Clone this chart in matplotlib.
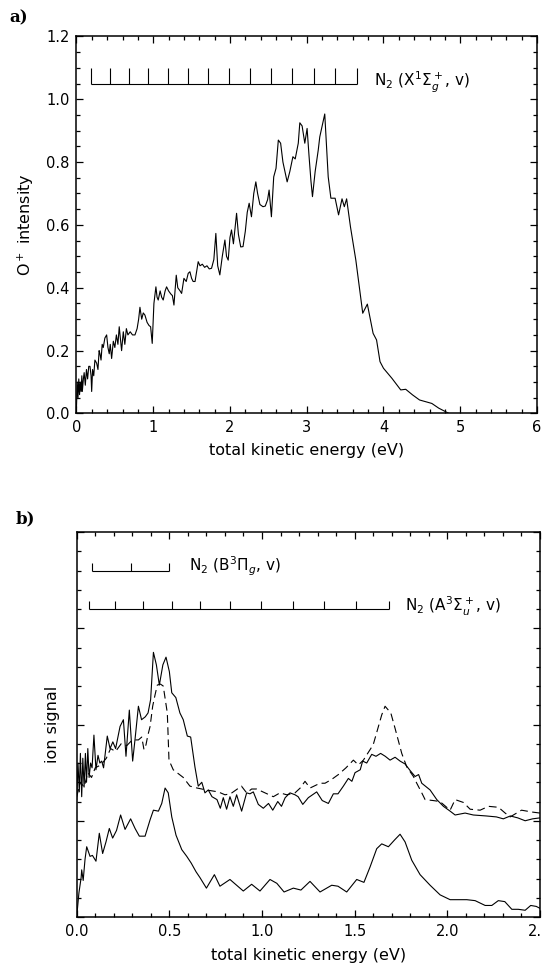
import matplotlib
matplotlib.use('Agg')
import matplotlib.pyplot as plt
from matplotlib.ticker import MultipleLocator, NullFormatter

plt.rcParams['font.family'] = 'DejaVu Sans'
plt.rcParams['mathtext.fontset'] = 'dejavusans'

# panel a: O+ kinetic energy distribution
a_energy = [0.00, 0.01, 0.02, 0.03, 0.04, 0.05, 0.06, 0.07, 0.076, 0.09, 0.10, 0.115, 0.13, 0.145,
            0.16, 0.176, 0.19, 0.198, 0.21, 0.225, 0.24, 0.263, 0.28, 0.295, 0.306, 0.32, 0.335,
            0.349, 0.37, 0.393, 0.41, 0.427, 0.44, 0.458, 0.48, 0.50, 0.52, 0.54, 0.557, 0.575,
            0.588, 0.61, 0.63, 0.65, 0.67, 0.70, 0.73, 0.762, 0.79, 0.81, 0.827, 0.85, 0.87,
            0.892, 0.92, 0.945, 0.966, 0.987, 1.009, 1.035, 1.05, 1.065, 1.09, 1.11, 1.13, 1.155,
            1.174, 1.20, 1.23, 1.25, 1.27, 1.30, 1.32, 1.35, 1.37, 1.40, 1.43, 1.456, 1.478, 1.50,
            1.52, 1.545, 1.565, 1.586, 1.61, 1.64, 1.67, 1.70, 1.73, 1.76, 1.79, 1.816, 1.84,
            1.868, 1.90, 1.934, 1.955, 1.977, 2.00, 2.02, 2.045, 2.086, 2.11, 2.14, 2.17, 2.20,
            2.225, 2.25, 2.28, 2.31, 2.337, 2.36, 2.39, 2.43, 2.46, 2.49, 2.51, 2.54, 2.57, 2.60,
            2.63, 2.66, 2.69, 2.745, 2.78, 2.82, 2.85, 2.89, 2.91, 2.94, 2.975, 3.005, 3.03, 3.055,
            3.075, 3.11, 3.15, 3.17, 3.235, 3.28, 3.315, 3.37, 3.415, 3.46, 3.49, 3.52, 3.57, 3.64,
            3.685, 3.73, 3.79, 3.865, 3.91, 3.955, 4.0, 4.11, 4.225, 4.29, 4.38, 4.47, 4.63, 4.72,
            4.855]
a_signal = [0.02, 0.10, 0.05, 0.11, 0.06, 0.10, 0.07, 0.12, 0.07, 0.11, 0.13, 0.09, 0.14, 0.11,
            0.15, 0.15, 0.12, 0.07, 0.14, 0.12, 0.17, 0.16, 0.14, 0.20, 0.19, 0.17, 0.22,
            0.21, 0.24, 0.25, 0.21, 0.19, 0.22, 0.175, 0.23, 0.21, 0.25, 0.22, 0.276, 0.23,
            0.20, 0.26, 0.22, 0.27, 0.25, 0.26, 0.25, 0.25, 0.27, 0.30, 0.338, 0.30, 0.32,
            0.313, 0.29, 0.28, 0.276, 0.223, 0.35, 0.403, 0.37, 0.361, 0.39, 0.37, 0.361, 0.39,
            0.403, 0.39, 0.38, 0.375, 0.345, 0.44, 0.40, 0.39, 0.382, 0.43, 0.42, 0.446, 0.451, 0.43,
            0.42, 0.42, 0.45, 0.483, 0.47, 0.475, 0.465, 0.47, 0.46, 0.462, 0.49, 0.573, 0.47,
            0.441, 0.50, 0.552, 0.50, 0.488, 0.56, 0.584, 0.54, 0.637, 0.57, 0.53, 0.531, 0.58,
            0.64, 0.669, 0.626, 0.70, 0.737, 0.70, 0.665, 0.658, 0.66, 0.68, 0.711, 0.626, 0.753, 0.78,
            0.87, 0.86, 0.80, 0.737, 0.77, 0.817, 0.81, 0.86, 0.925, 0.915, 0.86, 0.907, 0.82, 0.74,
            0.69, 0.77, 0.838, 0.88, 0.953, 0.753, 0.685, 0.685, 0.632, 0.683, 0.658, 0.683, 0.594, 0.488,
            0.403, 0.319, 0.348, 0.255, 0.234, 0.165, 0.144, 0.112, 0.075, 0.077, 0.059, 0.043, 0.032, 0.017,
            0.0]

# vibrational progression N2(X), positions in eV
x_levels = [0.185, 0.436, 0.688, 0.935, 1.188, 1.456, 1.716, 1.990, 2.259, 2.533, 2.81, 3.092,
            3.375, 3.656]

# panel b: three ion signal traces
b_top_e = [0.000, 0.007, 0.014, 0.020, 0.027, 0.033, 0.040, 0.047, 0.053, 0.060, 0.067, 0.075,
           0.083, 0.093, 0.104, 0.115, 0.125, 0.135, 0.145, 0.165, 0.18, 0.195, 0.21, 0.234,
           0.252, 0.266, 0.284, 0.302, 0.315, 0.333, 0.35, 0.37, 0.385, 0.399, 0.414, 0.43,
           0.446, 0.465, 0.482, 0.50, 0.513, 0.535, 0.557, 0.575, 0.597, 0.615, 0.638, 0.656,
           0.675, 0.692, 0.71, 0.73, 0.757, 0.775, 0.791, 0.809, 0.827, 0.845, 0.863, 0.89,
           0.917, 0.935, 0.953, 0.98, 1.007, 1.035, 1.058, 1.085, 1.105, 1.125, 1.151, 1.178,
           1.195, 1.22, 1.25, 1.295, 1.325, 1.358, 1.385, 1.41, 1.439, 1.466, 1.485, 1.502,
           1.53, 1.543, 1.565, 1.592, 1.615, 1.64, 1.665, 1.691, 1.718, 1.745, 1.772, 1.80,
           1.826, 1.845, 1.862, 1.907, 1.943, 1.979, 2.015, 2.042, 2.096, 2.14, 2.21, 2.265,
           2.302, 2.34, 2.38, 2.42, 2.46, 2.50]
b_top_s = [1.22, 1.60, 1.30, 1.70, 1.25, 1.65, 1.35, 1.70, 1.40, 1.75, 1.45, 1.60,
           1.55, 1.89, 1.53, 1.68, 1.60, 1.62, 1.55, 1.88, 1.75, 1.82, 1.75, 1.98,
           2.05, 1.67, 2.15, 1.62, 1.85, 2.19, 2.05, 2.08, 2.12, 2.26, 2.75, 2.62,
           2.41, 2.62, 2.70, 2.55, 2.33, 2.28, 2.12, 2.05, 1.88, 1.87, 1.56, 1.36,
           1.40, 1.29, 1.32, 1.25, 1.22, 1.13, 1.24, 1.12, 1.25, 1.15, 1.27, 1.10,
           1.29, 1.28, 1.30, 1.17, 1.13, 1.18, 1.11, 1.20, 1.15, 1.24, 1.29, 1.27,
           1.25, 1.17, 1.24, 1.30, 1.21, 1.18, 1.28, 1.28, 1.36, 1.44, 1.41, 1.50,
           1.53, 1.62, 1.60, 1.69, 1.67, 1.70, 1.67, 1.63, 1.66, 1.62, 1.59, 1.52,
           1.46, 1.48, 1.39, 1.32, 1.22, 1.15, 1.10, 1.06, 1.08, 1.06, 1.05, 1.04,
           1.02, 1.05, 1.03, 1.00, 1.02, 1.03]

b_dash_e = [0.00, 0.02, 0.04, 0.06, 0.08, 0.10, 0.13, 0.16, 0.183, 0.21, 0.24, 0.27, 0.30,
            0.333, 0.351, 0.363, 0.374, 0.383, 0.396, 0.41, 0.423, 0.435, 0.452, 0.467, 0.489,
            0.498, 0.521, 0.575, 0.611, 0.65, 0.70, 0.764, 0.80, 0.83, 0.889, 0.917, 0.944,
            0.971, 1.016, 1.061, 1.097, 1.133, 1.178, 1.206, 1.232, 1.259, 1.313, 1.34, 1.376,
            1.412, 1.453, 1.493, 1.52, 1.547, 1.60, 1.646, 1.664, 1.695, 1.718, 1.754, 1.781,
            1.817, 1.835, 1.862, 1.88, 1.924, 1.96, 2.015, 2.042, 2.087, 2.123, 2.177, 2.222,
            2.276, 2.312, 2.339, 2.40, 2.46, 2.50]
b_dash_s = [1.25, 1.40, 1.35, 1.50, 1.45, 1.55, 1.58, 1.65, 1.75, 1.72, 1.80, 1.78, 1.84,
            1.84, 1.87, 1.74, 1.79, 1.88, 1.98, 2.19, 2.31, 2.41, 2.42, 2.40, 2.12,
            1.63, 1.53, 1.45, 1.36, 1.34, 1.32, 1.30, 1.27, 1.28, 1.36, 1.29, 1.33,
            1.33, 1.29, 1.25, 1.29, 1.27, 1.29, 1.34, 1.41, 1.34, 1.39, 1.39, 1.43,
            1.48, 1.55, 1.63, 1.58, 1.63, 1.79, 2.10, 2.19, 2.12, 1.96, 1.70, 1.56,
            1.46, 1.39, 1.29, 1.22, 1.21, 1.20, 1.11, 1.22, 1.19, 1.12, 1.11, 1.15,
            1.14, 1.08, 1.04, 1.11, 1.09, 1.08]

b_low_e = [0.00, 0.012, 0.024, 0.027, 0.035, 0.045, 0.054, 0.072, 0.085, 0.104, 0.122, 0.14,
           0.158, 0.176, 0.194, 0.215, 0.237, 0.261, 0.291, 0.315, 0.338, 0.369, 0.396, 0.414,
           0.441, 0.459, 0.477, 0.494, 0.513, 0.536, 0.567, 0.594, 0.618, 0.644, 0.665, 0.70,
           0.743, 0.773, 0.827, 0.899, 0.944, 0.989, 1.043, 1.08, 1.119, 1.169, 1.21, 1.259,
           1.313, 1.376, 1.41, 1.457, 1.511, 1.55, 1.583, 1.619, 1.646, 1.682, 1.715, 1.745,
           1.772, 1.808, 1.853, 1.907, 1.961, 2.015, 2.105, 2.15, 2.204, 2.24, 2.275, 2.31,
           2.348, 2.383, 2.42, 2.45, 2.48, 2.50]
b_low_s = [0.0, 0.25, 0.41, 0.49, 0.38, 0.60, 0.73, 0.63, 0.64, 0.58, 0.87, 0.66,
           0.78, 0.92, 0.82, 0.90, 1.06, 0.91, 1.02, 0.92, 0.84, 0.84, 1.01, 1.11,
           1.10, 1.18, 1.34, 1.29, 1.04, 0.85, 0.70, 0.63, 0.56, 0.47, 0.41, 0.30,
           0.44, 0.32, 0.39, 0.27, 0.34, 0.27, 0.39, 0.35, 0.26, 0.30, 0.28, 0.37,
           0.26, 0.33, 0.32, 0.26, 0.39, 0.36, 0.52, 0.71, 0.76, 0.73, 0.80, 0.86,
           0.78, 0.59, 0.44, 0.33, 0.23, 0.18, 0.18, 0.17, 0.12, 0.12, 0.17, 0.16,
           0.08, 0.08, 0.07, 0.12, 0.11, 0.09]

b_levels = [0.080, 0.291, 0.500]
a3_levels = [0.065, 0.207, 0.360, 0.513, 0.668, 0.827, 0.995, 1.168, 1.335, 1.508, 1.685]

a_xticks = [0, 1, 2, 3, 4, 5, 6]
a_yticks = [0.0, 0.2, 0.4, 0.6, 0.8, 1.0, 1.2]
b_xticks = [0.0, 0.5, 1.0, 1.5, 2.0, 2.5]

fig = plt.figure(figsize=(5.42, 9.67), dpi=100)
ax1 = fig.add_axes([0.1411, 0.5724, 0.8496, 0.39])
ax2 = fig.add_axes([0.1415, 0.0517, 0.8548, 0.3981])


def style_axes(ax):
    for sp in ax.spines.values():
        sp.set_linewidth(1.1)
    ax.tick_params(which='both', direction='in', top=True, right=True, width=0.9,
                   labelsize=10.5, pad=5)
    ax.tick_params(which='major', length=5)
    ax.tick_params(which='minor', length=3)


def progression(ax, levels, y0, h):
    ax.hlines(y0, levels[0], levels[-1], color='black', lw=0.8)
    ax.vlines(levels, y0, y0 + h, color='black', lw=0.8)


# panel a
ax1.plot(a_energy, a_signal, color='black', lw=0.8)
ax1.set_xticks(a_xticks)
ax1.set_xticklabels([f'{v:d}' for v in a_xticks])
ax1.set_yticks(a_yticks)
ax1.set_yticklabels([f'{v:.1f}' for v in a_yticks])
ax1.xaxis.set_minor_locator(MultipleLocator(0.2))
ax1.yaxis.set_minor_locator(MultipleLocator(0.05))
ax1.set_xlim(0, 6)
ax1.set_ylim(0, 1.2)
style_axes(ax1)
progression(ax1, x_levels, 1.05, 0.05)
ax1.text(3.88, 1.04, r'N$_2$ (X$^1\Sigma_g^+$, v)', fontsize=11, va='baseline')
ax1.set_xlabel('total kinetic energy (eV)', fontsize=11.5)
ax1.set_ylabel(r'O$^+$ intensity', fontsize=11.5)
ax1.xaxis.set_label_coords(0.5, -0.078)
ax1.yaxis.set_label_coords(-0.088, 0.5)

# panel b
ax2.plot(b_top_e, b_top_s, color='black', lw=0.8)
ax2.plot(b_dash_e, b_dash_s, color='black', lw=0.8, linestyle=(0, (7, 4)))
ax2.plot(b_low_e, b_low_s, color='black', lw=0.8)
ax2.set_xticks(b_xticks)
ax2.set_xticklabels([f'{v:.1f}' for v in b_xticks])
ax2.xaxis.set_minor_locator(MultipleLocator(0.1))
ax2.yaxis.set_major_locator(MultipleLocator(1))
ax2.yaxis.set_minor_locator(MultipleLocator(0.2))
ax2.yaxis.set_major_formatter(NullFormatter())
ax2.set_xlim(0, 2.5)
ax2.set_ylim(0, 4)
style_axes(ax2)
progression(ax2, b_levels, 3.6, 0.08)
progression(ax2, a3_levels, 3.2, 0.08)
ax2.text(0.608, 3.59, r'N$_2$ (B$^3\Pi_g$, v)', fontsize=11, va='baseline')
ax2.text(1.77, 3.17, r'N$_2$ (A$^3\Sigma_u^+$, v)', fontsize=11, va='baseline')
ax2.set_xlabel('total kinetic energy (eV)', fontsize=11.5)
ax2.set_ylabel('ion signal', fontsize=11.5)
ax2.xaxis.set_label_coords(0.5, -0.08)
ax2.yaxis.set_label_coords(-0.035, 0.5)

fig.text(9 / 542, 1 - 18 / 967, 'a)', fontsize=12, fontweight='bold',
         family='DejaVu Serif', va='center')
fig.text(16 / 542, 1 - 519 / 967, 'b)', fontsize=12, fontweight='bold',
         family='DejaVu Serif', va='center')

fig.savefig('out.png', dpi=100)
